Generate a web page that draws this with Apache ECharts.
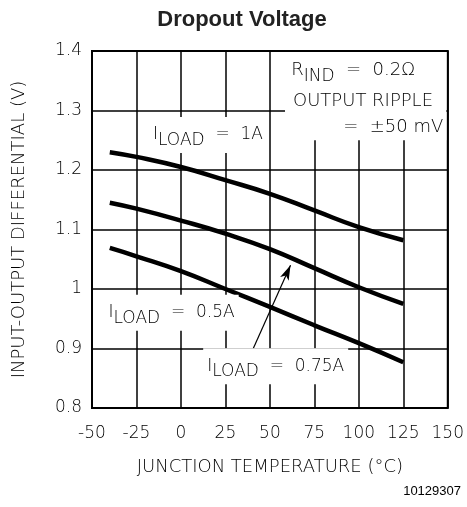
<!DOCTYPE html>
<html><head><meta charset="utf-8">
<script src="https://cdn.jsdelivr.net/npm/echarts@6/dist/echarts.min.js"></script>
<style>html,body{margin:0;padding:0;background:#fff}#c{width:467px;height:507px}</style>
</head><body><div id="c"></div>
<script>
const temps = [-40, -25, 0, 25, 50, 75, 100, 125];
const load1A = [1.230, 1.222, 1.205, 1.183, 1.160, 1.132, 1.104, 1.082];
const load075A = [1.145, 1.135, 1.115, 1.093, 1.067, 1.035, 1.003, 0.975];
const load05A = [1.069, 1.055, 1.030, 1.000, 0.970, 0.939, 0.909, 0.877];
const xTicks = [-50, -25, 0, 25, 50, 75, 100, 125, 150];
const yTicks = [0.8, 0.9, 1.0, 1.1, 1.2, 1.3, 1.4];

const FONT = 'DejaVu Sans';
const W = 200;
const chart = echarts.init(document.getElementById('c'));
const mk = (arr) => temps.map((t, i) => [t, arr[i]]);
const lineStyle = { color: '#000', width: 4.5 };

const option = {
  backgroundColor: '#fff',
  animation: false,
  title: {
    text: 'Dropout Voltage', left: 237, textAlign: 'center', top: 4,
    textStyle: { fontFamily: 'Liberation Sans', fontWeight: 'bold', fontSize: 22, color: '#222' }
  },
  grid: { left: 92, right: 15, top: 51, bottom: 99, show: true, borderColor: '#000', borderWidth: 2 },
  xAxis: {
    type: 'value', min: -50, max: 150, interval: 25,
    name: 'JUNCTION TEMPERATURE (°C)', nameLocation: 'middle', nameGap: 50,
    nameTextStyle: { fontFamily: FONT, fontWeight: W, fontSize: 18, color: '#000' },
    axisLine: { show: false }, axisTick: { show: false },
    axisLabel: { fontFamily: FONT, fontWeight: W, fontSize: 17, color: '#000', margin: 17 },
    splitLine: { show: true, lineStyle: { color: '#000', width: 1.5 } }
  },
  yAxis: {
    type: 'value', min: 0.8, max: 1.4, interval: 0.1,
    name: 'INPUT-OUTPUT DIFFERENTIAL (V)', nameLocation: 'middle', nameGap: 64,
    nameTextStyle: { fontFamily: FONT, fontWeight: W, fontSize: 18, color: '#000' },
    axisLine: { show: false }, axisTick: { show: false },
    axisLabel: { fontFamily: FONT, fontWeight: W, fontSize: 17, color: '#000', margin: 10 },
    splitLine: { show: true, lineStyle: { color: '#000', width: 1.5 } }
  },
  series: [
    { type: 'line', data: mk(load1A), smooth: true, showSymbol: false, lineStyle, z: 10 },
    { type: 'line', data: mk(load075A), smooth: true, showSymbol: false, lineStyle, z: 10 },
    { type: 'line', data: mk(load05A), smooth: true, showSymbol: false, lineStyle, z: 10,
      markLine: {
        silent: true, symbol: ['none', 'arrow'], symbolSize: [7, 15],
        lineStyle: { color: '#000', width: 1.2, type: 'solid' }, label: { show: false },
        data: [[{ coord: [38.7, 0.887] }, { coord: [61.6, 1.040] }]]
      }
    }
  ]
};
chart.setOption(option);

const rich = {
  i: { fontFamily: FONT, fontWeight: W, fontSize: 17, color: '#000' },
  s: { fontFamily: FONT, fontWeight: W, fontSize: 17, color: '#000', padding: [11, 0, 0, 0] }
};
function px(t, v) { return chart.convertToPixel({ gridIndex: 0 }, [t, v]); }
function label(t, v, txt) {
  const p = px(t, v);
  return { type: 'text', x: p[0], y: p[1], z: 20,
    style: { text: txt, rich, backgroundColor: '#fff', padding: [4, 4, 4, 4], verticalAlign: 'middle', align: 'left' } };
}
const tl = px(58.5, 1.4), br = px(150, 1.25);
const plain = (t, v, txt, align) => {
  const p = px(t, v);
  return { type: 'text', z: 20, x: p[0], y: p[1],
    style: { text: txt, fontFamily: FONT, fontWeight: W, fontSize: 18, fill: '#000', verticalAlign: 'middle', align } };
};
const rich2 = {
  i: { fontFamily: FONT, fontWeight: W, fontSize: 18, color: '#000' },
  s: { fontFamily: FONT, fontWeight: W, fontSize: 17, color: '#000', padding: [11, 0, 0, 0] }
};
const rp = px(62, 1.367);
chart.setOption({
  graphic: [
    { type: 'rect', z: 5, shape: { x: tl[0], y: tl[1] + 1, width: br[0] - tl[0] - 1.5, height: br[1] - tl[1] - 1 }, style: { fill: '#fff' } },
    label(-18, 1.259, '{i|I}{s|LOAD}{i|  =  1A}'),
    label(-43, 0.960, '{i|I}{s|LOAD}{i|  =  0.5A}'),
    label(12.5, 0.870, '{i|I}{s|LOAD}{i|  =  0.75A}'),
    { type: 'text', z: 20, x: rp[0], y: rp[1], style: { text: '{i|R}{s|IND}{i|  =  0.2Ω}', rich: rich2, verticalAlign: 'middle', align: 'left' } },
    plain(63, 1.316, 'OUTPUT RIPPLE', 'left'),
    plain(147.5, 1.272, '=  ±50 mV', 'right'),
    { type: 'text', z: 20, x: 461, y: 491,
      style: { text: '10129307', fontFamily: 'Liberation Sans', fontSize: 13, fill: '#000', verticalAlign: 'middle', align: 'right' } }
  ]
});
</script></body></html>
